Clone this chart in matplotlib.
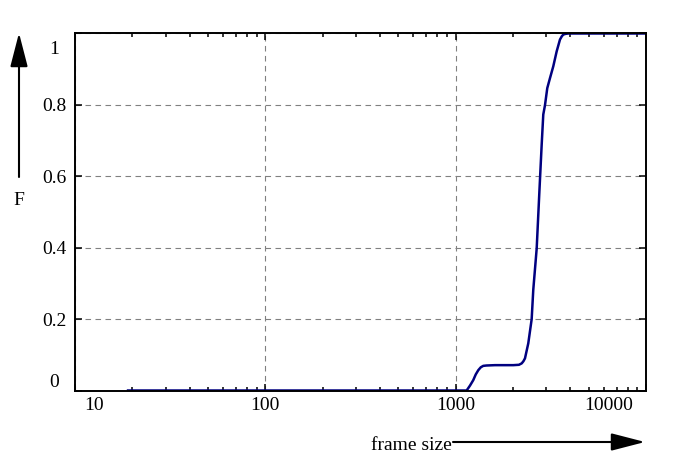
import matplotlib
matplotlib.use("Agg")
import matplotlib.pyplot as plt
from matplotlib.transforms import ScaledTranslation
from matplotlib.patches import ArrowStyle

plt.rcParams['font.family'] = ['Liberation Serif', 'DejaVu Serif']

frame_size = [19, 1142, 1190, 1237, 1275, 1315, 1355, 1396, 1450, 1609, 2008,
              2150, 2223, 2270, 2313, 2407, 2508, 2557, 2665, 2752, 2831,
              2886, 2946, 3029, 3130, 3257, 3394, 3532, 3610, 3676, 3780,
              3906, 10000]
cdf = [0.0, 0.0, 0.014, 0.029, 0.045, 0.057, 0.065, 0.069, 0.070, 0.071, 0.071,
       0.072, 0.076, 0.082, 0.090, 0.132, 0.200, 0.282, 0.398, 0.555, 0.689,
       0.773, 0.799, 0.847, 0.875, 0.908, 0.950, 0.983, 0.992, 0.997, 0.999,
       1.0, 1.0]

xticks = [10, 100, 1000, 10000]
xticklabels = ['10', '100', '1000', '10000']
yticks = [0, 0.2, 0.4, 0.6, 0.8, 1.0]
yticklabels = ['0', '0.2', '0.4', '0.6', '0.8', '1']

W, H = 694, 461
fig = plt.figure(figsize=(W / 100, H / 100), dpi=100)
ax = fig.add_axes([75 / W, (H - 390.5) / H, (646 - 75) / W, 357 / H])

ax.plot(frame_size, cdf, color='#000080', lw=1.8, solid_joinstyle='round')

ax.set_xscale('log')
ax.set_xlim(10, 10000)
ax.set_ylim(0, 1)
ax.set_xticks(xticks, xticklabels)
ax.set_yticks(yticks, yticklabels)

for s in ax.spines.values():
    s.set_linewidth(1.4)

ax.tick_params(which='both', direction='in', top=True, right=True, width=1.1)
ax.tick_params(which='major', length=5, labelsize=14)
ax.tick_params(which='minor', length=3)
ax.tick_params(axis='x', which='major', pad=5)
ax.tick_params(axis='y', which='major', pad=15)
ax.grid(True, which='major', color='#808080', linestyle=(0, (5, 4)), linewidth=0.8)

fig.canvas.draw()
for lab in ax.get_yticklabels():
    lab.set_horizontalalignment('center')

def shift(lab, dx, dy):
    lab.set_transform(lab.get_transform() + ScaledTranslation(dx / 100, dy / 100, fig.dpi_scale_trans))

xl = ax.get_xticklabels()
shift(xl[0], 19.5, 0)
shift(xl[-1], -37, 0)
yl = ax.get_yticklabels()
shift(yl[0], 0, 10.5)
shift(yl[-1], 0, -13.5)

style = ArrowStyle('-|>', head_length=2.09, head_width=0.54)
ax.annotate('', xy=(19 / W, (H - 33) / H), xytext=(19 / W, (H - 177) / H),
            xycoords='figure fraction', textcoords='figure fraction',
            arrowprops=dict(arrowstyle=style, color='black', lw=1.5,
                            mutation_scale=10, shrinkA=0, shrinkB=0))
ax.annotate('', xy=(645 / W, (H - 442) / H), xytext=(453 / W, (H - 442) / H),
            xycoords='figure fraction', textcoords='figure fraction',
            arrowprops=dict(arrowstyle=style, color='black', lw=1.5,
                            mutation_scale=10, shrinkA=0, shrinkB=0))
fig.text(19 / W, (H - 205) / H, 'F', ha='center', va='baseline', fontsize=14)
fig.text(452 / W, (H - 450) / H, 'frame size', ha='right', va='baseline', fontsize=14)

fig.savefig('out.png', dpi=100)
